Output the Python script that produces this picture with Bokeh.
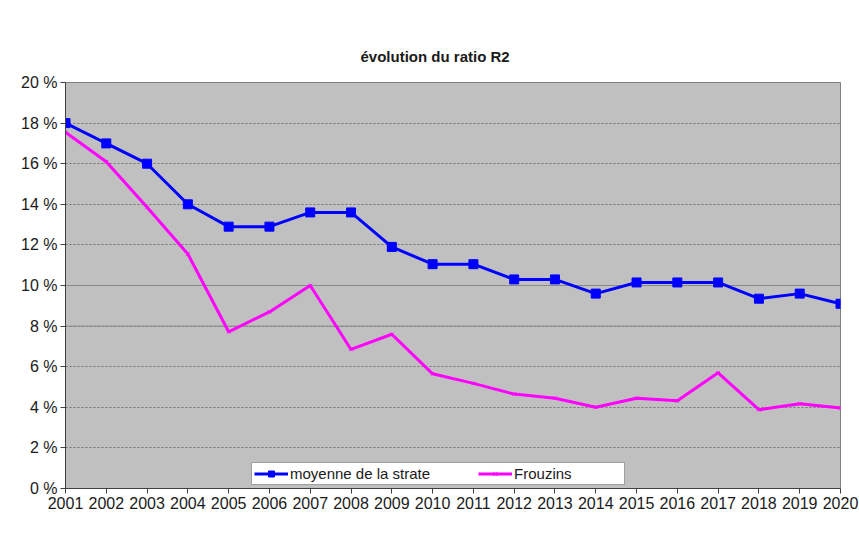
from bokeh.plotting import figure
from bokeh.models import (Range1d, FixedTicker, PrintfTickFormatter, Span,
                          Legend, LegendItem, Title)
from bokeh.embed import file_html
from bokeh.resources import INLINE

# ---- data ----
years = list(range(2001, 2021))
moyenne = [18.0, 17.0, 16.0, 14.0, 12.9, 12.9, 13.6, 13.6, 11.9, 11.05,
           11.05, 10.3, 10.3, 9.6, 10.15, 10.15, 10.15, 9.35, 9.6, 9.1]
frouzins = [17.55, 16.1, 13.85, 11.55, 7.72, 8.7, 10.0, 6.85, 7.6, 5.65,
            5.18, 4.65, 4.45, 4.0, 4.45, 4.32, 5.7, 3.88, 4.17, 3.97]
y_ticks = [0, 2, 4, 6, 8, 10, 12, 14, 16, 18, 20]
solid_grid = [8, 10]
title_text = "évolution du ratio R2"
series_names = ["moyenne de la strate", "Frouzins"]

FONT = "Liberation Sans"
W, H = 859, 548
FL, FR, FT, FB = 65, 840, 82, 488   # plot frame edges in the page

p = figure(frame_width=FR - FL, frame_height=FB - FT,
           output_backend="svg", toolbar_location=None,
           x_range=Range1d(2001, 2020), y_range=Range1d(0, 20),
           min_border_left=FL, min_border_right=W - FR,
           min_border_top=FT, min_border_bottom=H - FB)
p.background_fill_color = "#C0C0C0"
p.border_fill_color = "white"
p.outline_line_color = "#808080"
p.outline_line_width = 1

# axes
p.xaxis.ticker = FixedTicker(ticks=years)
p.xaxis.major_label_overrides = {y: str(y) for y in years}
p.yaxis.ticker = FixedTicker(ticks=y_ticks)
p.yaxis.formatter = PrintfTickFormatter(format="%d %%")
for ax in (p.xaxis[0], p.yaxis[0]):
    ax.axis_line_color = "#404040"
    ax.major_tick_line_color = "#404040"
    ax.major_tick_in = 0
    ax.major_tick_out = 5
    ax.minor_tick_line_color = None
    ax.major_label_text_font = FONT
    ax.major_label_text_font_size = "16px"
    ax.major_label_text_color = "#1a1a1a"
    ax.major_label_standoff = 3

# grid
p.xgrid.grid_line_color = None
p.ygrid.ticker = FixedTicker(ticks=y_ticks)
p.ygrid.grid_line_color = "#606060"
p.ygrid.grid_line_dash = "2 2"
p.ygrid.grid_line_width = 1
p.ygrid.grid_line_alpha = 0.8
for v in solid_grid:
    p.add_layout(Span(location=v, dimension="width", line_color="#8a8a8a",
                      line_width=1, level="underlay"))

# series
r1 = p.line(years, moyenne, line_color="#0000FF", line_width=3)
r1m = p.scatter(years, moyenne, marker="square", size=9,
                fill_color="#0000FF", line_color="#0000FF")
r2 = p.line(years, frouzins, line_color="#FF00FF", line_width=3)
r2m = p.scatter(years, frouzins, marker="x", size=5, line_color="#FF00FF",
                line_width=1)

# title
p.add_layout(Title(text=title_text, align="left", offset=295, standoff=36,
                   text_font=FONT, text_font_size="15px", text_font_style="bold",
                   text_color="#1a1a1a"), "above")

# legend (kept inside the plot frame so that it is always visible)
legend = Legend(items=[LegendItem(label=series_names[0], renderers=[r1, r1m]),
                       LegendItem(label=series_names[1], renderers=[r2, r2m])],
                location=(186, 3), orientation="horizontal", padding=2,
                margin=0, spacing=48, label_standoff=2, glyph_width=34,
                glyph_height=15, label_height=15, label_width=108,
                label_text_font=FONT, label_text_font_size="15px",
                label_text_color="#1a1a1a", border_line_color="#404040",
                border_line_width=1, background_fill_color="white",
                background_fill_alpha=1)
p.add_layout(legend, "center")

open("out.html", "w").write(file_html(p, INLINE))
